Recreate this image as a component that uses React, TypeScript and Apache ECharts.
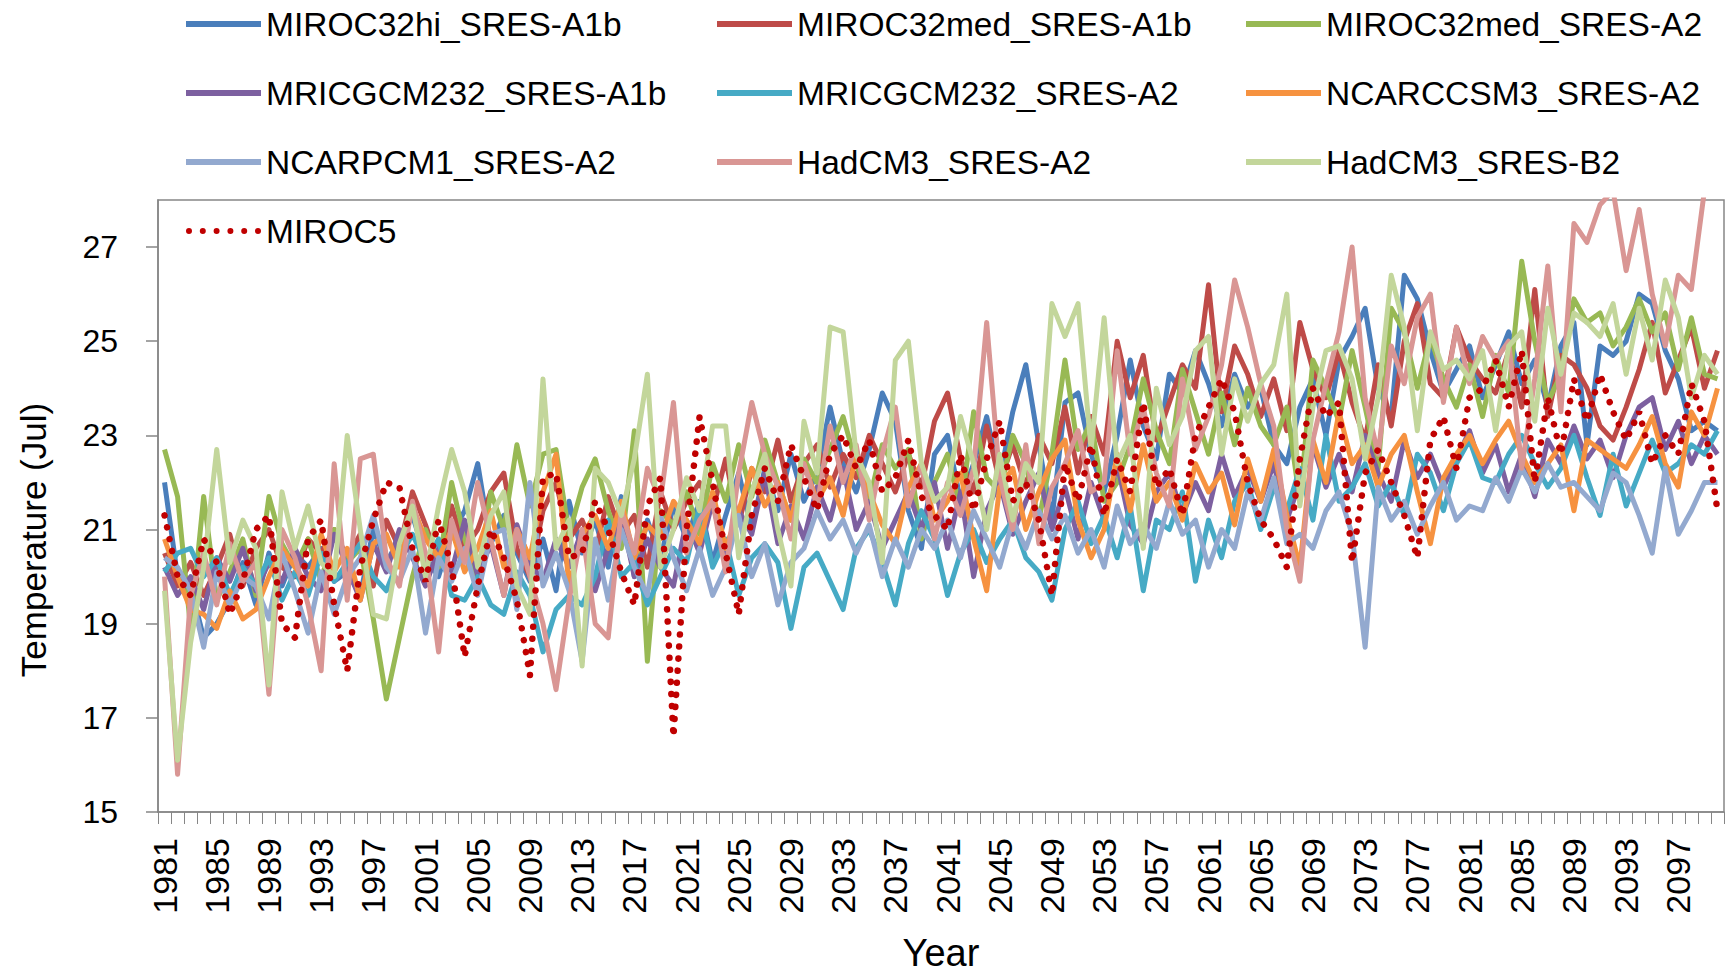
import React, { useEffect, useRef } from "react";
import * as echarts from "echarts";

const years: string[] = [];
for (let y = 1981; y <= 2100; y++) years.push(String(y));

const yTickMin = 15;
const yTickMax = 28;
const yTickStep = 2;

const miroc32hiA1b = [
  22.0, 20.0, 19.8, 18.7, 19.0, 19.5, 20.3, 19.4, 20.5, 19.8,
  20.5, 20.2, 20.6, 19.9, 20.1, 19.6, 21.0, 20.3, 20.8, 21.3,
  20.4, 20.0, 20.9, 21.4, 22.4, 20.7, 21.3, 20.5, 19.9, 20.8,
  19.7, 21.6, 20.5, 21.2, 20.2, 21.7, 20.0, 21.2, 20.4, 21.5,
  20.8, 21.6, 20.3, 21.3, 22.2, 21.0, 22.3, 21.4, 22.6, 21.6,
  22.2, 23.6, 22.4, 21.8, 22.7, 23.9, 23.3, 21.4, 20.6, 22.6,
  23.0, 21.6, 22.4, 23.4, 22.1, 23.5, 24.5, 22.8, 21.2, 23.7,
  23.9, 22.6, 21.8, 23.0, 24.6, 23.2, 22.5, 24.3, 23.9, 24.8,
  24.1, 23.2, 24.3, 23.6, 24.0, 22.8, 22.4, 23.6, 24.2, 23.0,
  24.6, 25.1, 25.7, 24.0, 23.4, 26.4, 25.9, 24.8, 23.9, 24.4,
  24.9, 23.8, 24.5, 25.2, 24.1, 24.6, 23.6, 24.9, 25.4, 22.8,
  24.9, 24.7, 25.0, 26.0, 25.8, 24.8, 24.2, 23.1, 23.3, 23.1,
];

const miroc32medA1b = [
  20.5, 19.8, 20.3, 19.6, 20.2, 20.9, 19.8, 20.6, 21.0, 20.2,
  20.0, 20.8, 20.5, 21.0, 20.4, 20.9, 19.8, 21.2, 20.6, 21.8,
  21.1, 20.3, 21.5, 20.6, 21.0, 21.8, 22.2, 20.6, 20.0, 21.4,
  22.0, 20.8, 21.2, 20.5, 21.7, 20.9, 21.3, 20.2, 21.8, 21.0,
  21.6, 22.0, 21.4, 22.5, 21.1, 22.3, 21.8, 22.9, 21.6, 22.4,
  22.8, 21.9, 22.6, 22.1, 23.0, 22.4, 21.8, 22.6, 21.9, 23.3,
  23.9, 22.5, 21.8, 23.2, 22.0, 22.8, 21.9, 23.0, 22.4, 23.6,
  22.2, 23.4, 22.6, 25.0, 23.8, 24.7, 22.9, 23.7, 24.5, 24.0,
  26.2, 23.5, 24.9, 24.3, 23.4, 24.2, 23.1, 25.4, 24.4, 23.8,
  24.8, 23.7, 22.9, 24.5, 23.2, 25.0, 25.8, 24.1, 23.8, 25.3,
  24.6, 24.2, 23.9, 24.8, 23.6, 26.1, 23.4, 24.7, 24.5, 24.0,
  23.2, 22.9, 23.6, 24.4, 25.4, 23.9, 24.6, 25.3, 24.0, 24.8,
];

const miroc32medA2 = [
  22.7, 21.7, 18.9, 21.7, 19.5, 20.1, 20.8, 19.6, 21.7, 20.7,
  20.2, 20.8, 19.9, 21.0, 20.3, 20.6, 19.1, 17.4, 18.7, 20.0,
  21.0, 20.2, 22.0, 20.8, 19.9, 21.8, 21.0, 22.8, 21.5, 22.6,
  22.7, 20.9, 21.9, 22.5, 21.4, 20.6, 23.1, 18.2, 21.4, 21.1,
  21.8, 20.9, 22.4, 21.6, 22.8, 21.7, 22.9, 22.0, 21.2, 22.5,
  22.0, 22.7, 23.4, 22.4, 21.6, 22.8, 22.3, 22.7, 20.8, 22.0,
  22.6, 21.4, 23.5, 22.1, 21.8, 23.0, 22.4, 21.2, 22.6, 24.6,
  22.7, 23.3, 21.6, 22.0, 22.8, 24.2, 23.1, 22.4, 24.4, 23.5,
  22.6, 23.9, 22.8, 24.0, 23.2, 22.8, 23.6, 21.6, 24.6, 24.0,
  23.3, 24.8, 23.6, 22.3, 25.7, 25.2, 24.0, 25.1, 24.2, 23.6,
  24.5, 23.4, 24.7, 23.9, 26.7, 25.0, 23.7, 24.3, 25.9, 25.4,
  25.6, 24.9, 25.3, 25.9, 25.2, 25.6, 24.4, 25.5, 24.3, 24.2,
];

const mricgcm232A1b = [
  20.2, 19.6, 20.0, 19.3, 20.4, 19.9, 20.6, 19.7, 20.3, 19.9,
  20.6, 20.0, 19.7, 20.9, 20.2, 19.5, 20.7, 20.1, 21.0, 20.4,
  19.8, 20.6, 20.1, 21.2, 20.0, 20.7, 19.6, 21.1, 20.3, 19.9,
  20.8, 20.2, 21.0, 19.7, 20.6, 21.3, 20.0, 20.8, 20.2, 19.8,
  21.2, 20.5, 21.6, 20.3, 21.4, 20.9, 22.2, 20.7, 21.5, 20.8,
  21.9, 21.2, 22.3, 21.0, 21.6, 20.6, 21.2, 21.8, 21.0, 22.0,
  20.6, 21.8, 20.0, 21.4, 22.0, 20.9, 21.6, 22.2, 21.0, 21.9,
  20.8, 22.0, 21.2, 22.4, 21.1, 20.7, 21.8, 22.2, 21.3, 22.0,
  21.4, 22.6, 21.7, 22.3, 21.6, 22.4, 21.2, 22.0, 22.8, 21.9,
  22.6, 21.8, 23.0, 22.2, 21.6, 22.9, 22.1, 22.6, 21.9, 22.5,
  23.1, 22.2, 22.8, 21.8, 22.6, 21.7, 22.9, 22.4, 23.2, 22.5,
  22.9, 22.1, 23.0, 23.6, 23.8, 22.7, 23.3, 22.4, 23.0, 22.6,
];

const mricgcm232A2 = [
  20.1, 20.5, 20.6, 20.0, 20.4, 19.6, 20.2, 19.8, 20.4, 19.5,
  20.1, 19.6, 20.5, 19.9, 20.3, 20.7, 20.0, 19.7, 20.4, 20.9,
  20.3, 20.8, 19.6, 19.5, 20.0, 19.4, 19.2, 20.1, 19.6, 18.4,
  19.3, 19.6, 19.4, 20.0, 21.2, 20.0, 20.3, 19.4, 20.0, 20.6,
  20.3, 21.5, 20.2, 20.8, 19.6, 20.4, 20.7, 20.3, 18.9, 20.2,
  20.5, 19.9, 19.3, 20.6, 21.0, 20.3, 19.4, 20.7, 21.4, 20.8,
  19.6, 20.5, 21.0, 20.3, 20.8, 21.2, 20.4, 20.1, 19.5, 21.0,
  21.6, 20.7, 21.3, 20.4, 21.5, 19.7, 21.2, 21.0, 21.8, 19.9,
  21.2, 20.4, 21.6, 22.0, 21.0, 21.9, 21.4, 22.3, 21.2, 23.0,
  21.6, 21.9, 22.4, 21.5, 22.0, 21.3, 22.6, 22.2, 21.4, 22.4,
  22.9, 22.1, 22.0, 22.6, 23.0, 22.4, 21.9, 22.3, 23.0, 22.1,
  21.3, 22.6, 21.5, 22.2, 22.9, 22.2, 22.4, 22.8, 22.6, 23.1,
];

const ncarccsm3A2 = [
  20.8, 20.0, 19.3, 19.2, 18.9, 19.7, 19.1, 19.3, 20.0, 20.6,
  20.2, 19.8, 20.9, 20.1, 20.6, 19.5, 20.7, 20.9, 20.2, 21.5,
  20.8, 20.4, 21.0, 20.1, 20.6, 21.4, 20.2, 21.0, 20.4, 21.8,
  22.6, 19.8, 20.9, 21.3, 20.6, 21.6, 20.4, 21.1, 20.8, 21.6,
  21.2, 20.7, 21.8, 20.6, 21.4, 22.3, 21.5, 22.0, 21.2, 22.4,
  21.6, 22.1, 21.3, 22.6, 21.8, 21.1, 20.7, 21.9, 22.4, 21.2,
  21.6, 22.2, 20.8, 19.7, 21.9, 22.3, 21.0, 21.8, 22.5, 22.9,
  21.2, 20.4, 21.0, 22.6, 21.4, 22.8, 21.6, 22.0, 21.2, 22.4,
  21.8, 22.2, 21.1, 22.5, 21.6, 22.7, 21.3, 20.2, 22.9, 22.0,
  23.5, 22.4, 22.8, 21.9, 22.6, 23.0, 21.8, 20.7, 22.1, 22.6,
  23.0, 22.4, 22.9, 23.3, 22.6, 22.0, 22.4, 22.8, 21.4, 22.9,
  22.7, 22.5, 22.3, 22.8, 23.4, 22.4, 21.9, 23.5, 23.0, 24.0,
];

const ncarpcm1A2 = [
  20.4, 20.2, 19.7, 18.5, 20.1, 19.4, 20.0, 19.8, 19.1, 20.5,
  19.7, 18.8, 20.1, 19.2, 20.0, 20.4, 21.3, 20.2, 19.9, 20.6,
  18.8, 20.4, 19.9, 20.6, 19.6, 20.9, 21.0, 19.3, 22.0, 19.8,
  20.5, 19.7, 18.2, 20.8, 19.5, 21.0, 20.2, 19.6, 21.3, 20.4,
  19.7, 20.6, 19.6, 20.2, 21.3, 20.0, 20.7, 19.4, 20.3, 20.6,
  21.4, 20.8, 21.2, 20.5, 21.1, 20.0, 20.8, 20.2, 21.0, 20.6,
  21.2, 20.4, 21.4, 20.8, 20.2, 21.2, 20.6, 21.4, 20.8, 21.3,
  20.5, 21.0, 20.2, 21.5, 20.7, 21.1, 20.6, 21.6, 20.9, 21.2,
  20.2, 21.0, 20.6, 21.8, 21.2, 22.1, 20.7, 20.9, 20.6, 21.4,
  21.8, 20.9, 18.5, 21.9, 21.2, 21.6, 20.9, 21.5, 22.0, 21.2,
  21.5, 21.4, 22.1, 21.6, 22.3, 21.8, 22.4, 21.9, 22.0, 21.7,
  21.4, 22.2, 22.0, 21.3, 20.5, 22.3, 20.9, 21.4, 22.0, 22.0,
];

const hadcm3A2 = [
  20.0, 15.8, 19.6, 20.5, 19.4, 20.7, 19.9, 20.3, 17.5, 21.0,
  20.4, 19.4, 18.0, 22.4, 19.5, 22.5, 22.6, 20.4, 19.8, 21.6,
  20.5, 18.4, 21.2, 20.3, 22.0, 20.8, 19.6, 21.0, 20.0, 19.0,
  17.6, 19.5, 21.0, 19.0, 18.7, 21.4, 20.5, 22.3, 21.6, 23.7,
  20.5, 21.2, 21.6, 20.1, 22.2, 23.7, 22.6, 21.9, 20.8, 22.4,
  21.5, 23.2, 22.0, 22.8, 21.2, 22.6, 23.6, 21.5, 22.4, 20.8,
  22.0, 21.3, 22.3, 25.4, 22.1, 21.0, 22.8, 20.7, 21.9, 22.4,
  23.1, 21.8, 22.0, 24.8, 22.6, 23.6, 22.2, 21.5, 24.2, 22.7,
  23.4, 24.5, 26.3, 25.3, 24.1, 23.2, 21.0, 19.9, 22.9, 24.1,
  25.2, 27.0, 23.8, 22.6, 24.9, 24.1, 25.5, 26.0, 23.7, 25.3,
  24.1, 25.1, 24.6, 25.0, 22.3, 24.2, 26.6, 23.5, 27.5, 27.1,
  27.9, 28.2, 26.5, 27.8, 26.0, 24.9, 26.4, 26.1, 28.2, 28.6,
];

const hadcm3B2 = [
  19.7, 16.1, 18.6, 20.2, 22.7, 20.3, 21.2, 20.6, 17.7, 21.8,
  20.6, 21.5, 20.3, 20.0, 23.0, 21.0, 19.2, 19.1, 20.7, 21.5,
  20.0, 21.5, 22.7, 21.8, 20.2, 21.3, 21.8, 19.8, 19.2, 24.2,
  20.6, 21.2, 18.1, 22.3, 22.0, 21.3, 22.5, 24.3, 20.2, 21.0,
  22.1, 21.4, 23.2, 23.2, 20.4, 21.8, 22.6, 21.0, 19.8, 23.3,
  22.2, 25.3, 25.2, 22.6, 22.0, 20.3, 24.6, 25.0, 22.4, 21.6,
  21.9, 23.4, 22.4, 21.0, 22.6, 21.2, 22.4, 22.0, 25.8, 25.1,
  25.8, 22.7, 25.5, 22.4, 23.0, 20.6, 24.0, 22.8, 23.4, 24.8,
  25.1, 22.6, 24.2, 23.3, 24.1, 24.5, 26.0, 21.5, 23.6, 24.8,
  24.9, 24.2, 22.5, 23.8, 26.4, 25.3, 23.1, 25.2, 24.4, 24.6,
  24.2, 24.8, 23.1, 24.9, 25.2, 23.3, 25.7, 24.3, 25.6, 25.4,
  25.1, 25.8, 24.3, 25.7, 24.6, 26.3, 25.5, 23.8, 24.7, 24.3,
];

const miroc5 = [
  21.3, 20.0, 19.6, 20.8, 20.3, 19.2, 19.9, 21.0, 21.3, 19.0,
  18.7, 20.8, 21.2, 19.4, 18.0, 20.2, 21.2, 22.0, 21.9, 20.6,
  19.9, 21.2, 20.2, 18.3, 19.8, 21.0, 20.4, 19.5, 17.9, 22.1,
  22.2, 20.4, 20.5, 21.6, 21.0, 20.1, 19.4, 21.5, 22.1, 16.6,
  21.0, 23.4, 22.0, 20.5, 19.2, 21.3, 22.3, 21.6, 22.8, 22.1,
  21.4, 22.6, 23.0, 22.3, 22.9, 21.8, 22.1, 22.9, 21.7, 21.3,
  21.0, 22.6, 21.4, 22.5, 23.3, 21.6, 22.0, 21.2, 19.6, 22.4,
  21.6, 22.8, 21.3, 22.5, 21.8, 23.7, 21.9, 22.3, 21.3, 23.0,
  23.6, 24.2, 23.5, 22.0, 21.2, 20.8, 20.2, 22.5, 24.0, 23.4,
  23.7, 20.3, 22.2, 22.7, 22.0, 21.3, 20.4, 22.9, 23.4, 22.3,
  23.8, 24.0, 24.6, 23.6, 24.8, 22.0, 23.8, 22.6, 24.2, 23.3,
  24.3, 23.5, 22.9, 23.5, 22.4, 23.0, 22.6, 24.1, 23.3, 21.4,
];

const seriesNames = [
  "MIROC32hi_SRES-A1b",
  "MIROC32med_SRES-A1b",
  "MIROC32med_SRES-A2",
  "MRICGCM232_SRES-A1b",
  "MRICGCM232_SRES-A2",
  "NCARCCSM3_SRES-A2",
  "NCARPCM1_SRES-A2",
  "HadCM3_SRES-A2",
  "HadCM3_SRES-B2",
  "MIROC5",
];

const seriesValues = [
  miroc32hiA1b,
  miroc32medA1b,
  miroc32medA2,
  mricgcm232A1b,
  mricgcm232A2,
  ncarccsm3A2,
  ncarpcm1A2,
  hadcm3A2,
  hadcm3B2,
  miroc5,
];

const seriesColors = [
  "#4A7EBB",
  "#BE4B48",
  "#98B954",
  "#7D60A0",
  "#46AAC5",
  "#F69240",
  "#93A9CF",
  "#D99694",
  "#C3D69B",
  "#C00000",
];

const FONT = "'Liberation Sans', Arial, sans-serif";

const dotsIcon =
  "path://M0,3a3,3 0 1,0 6,0a3,3 0 1,0 -6,0Z" +
  "M13.8,3a3,3 0 1,0 6,0a3,3 0 1,0 -6,0Z" +
  "M27.6,3a3,3 0 1,0 6,0a3,3 0 1,0 -6,0Z" +
  "M41.4,3a3,3 0 1,0 6,0a3,3 0 1,0 -6,0Z" +
  "M55.2,3a3,3 0 1,0 6,0a3,3 0 1,0 -6,0Z" +
  "M69,3a3,3 0 1,0 6,0a3,3 0 1,0 -6,0Z";

const legendColumns = [
  { left: 181, items: [0, 3, 6, 9] },
  { left: 712, items: [1, 4, 7] },
  { left: 1241, items: [2, 5, 8] },
];

export default function App() {
  const ref = useRef<HTMLDivElement>(null);

  useEffect(() => {
    if (!ref.current) return;
    const chart = echarts.init(ref.current, undefined, { renderer: "svg" });

    const series = seriesNames.map((name, i) => {
      const isDot = name === "MIROC5";
      return {
        name,
        type: "line",
        data: seriesValues[i],
        symbol: "none",
        showSymbol: false,
        color: seriesColors[i],
        lineStyle: isDot
          ? { width: 6.5, color: seriesColors[i], type: [0.1, 12], cap: "round" }
          : { width: 5, color: seriesColors[i], join: "round" },
        z: 2 + i,
      };
    });

    const legends = legendColumns.map((col) => ({
      orient: "vertical",
      left: col.left,
      top: -1,
      itemWidth: 75,
      itemHeight: 6,
      itemGap: 29,
      icon: "rect",
      selectedMode: false,
      textStyle: {
        fontSize: 33.5,
        lineHeight: 40,
        color: "#000",
        fontFamily: FONT,
      },
      data: col.items.map((idx) =>
        seriesNames[idx] === "MIROC5"
          ? { name: seriesNames[idx], icon: dotsIcon }
          : { name: seriesNames[idx] }
      ),
    }));

    chart.setOption({
      animation: false,
      backgroundColor: "#ffffff",
      textStyle: { fontFamily: FONT },
      grid: {
        left: 158,
        right: 3,
        top: 200,
        bottom: 161,
        outerBoundsMode: "none",
        containLabel: false,
        show: true,
        borderColor: "#868686",
        borderWidth: 1.5,
        backgroundColor: "transparent",
      },
      legend: legends,
      xAxis: {
        type: "category",
        data: years,
        boundaryGap: true,
        name: "Year",
        nameLocation: "middle",
        nameGap: 122,
        nameTextStyle: { fontSize: 38, color: "#000", fontFamily: FONT },
        axisLine: { show: true, lineStyle: { color: "#868686", width: 1.5 } },
        axisTick: {
          show: true,
          interval: 0,
          length: 12,
          lineStyle: { color: "#868686", width: 1 },
        },
        axisLabel: {
          interval: 3,
          rotate: 90,
          fontSize: 34,
          color: "#000",
          margin: 26,
          fontFamily: FONT,
        },
        splitLine: { show: false },
      },
      yAxis: {
        type: "value",
        min: yTickMin,
        max: yTickMax,
        interval: yTickStep,
        axisLine: { show: true, lineStyle: { color: "#868686", width: 1.5 } },
        axisTick: { show: true, length: 12, lineStyle: { color: "#868686", width: 1.5 } },
        axisLabel: {
          fontSize: 32,
          color: "#000",
          margin: 40,
          showMaxLabel: false,
          fontFamily: FONT,
        },
        splitLine: { show: false },
      },
      graphic: [
        {
          type: "text",
          x: 33,
          y: 540,
          rotation: Math.PI / 2,
          style: {
            text: "Temperature (Jul)",
            fontSize: 35,
            fontFamily: FONT,
            fill: "#000",
            align: "center",
            verticalAlign: "middle",
          },
        },
      ],
      series,
    });

    return () => {
      chart.dispose();
    };
  }, []);

  return (
    <div
      ref={ref}
      style={{ position: "fixed", left: 0, top: 0, width: 1727, height: 973, background: "#fff" }}
    />
  );
}
